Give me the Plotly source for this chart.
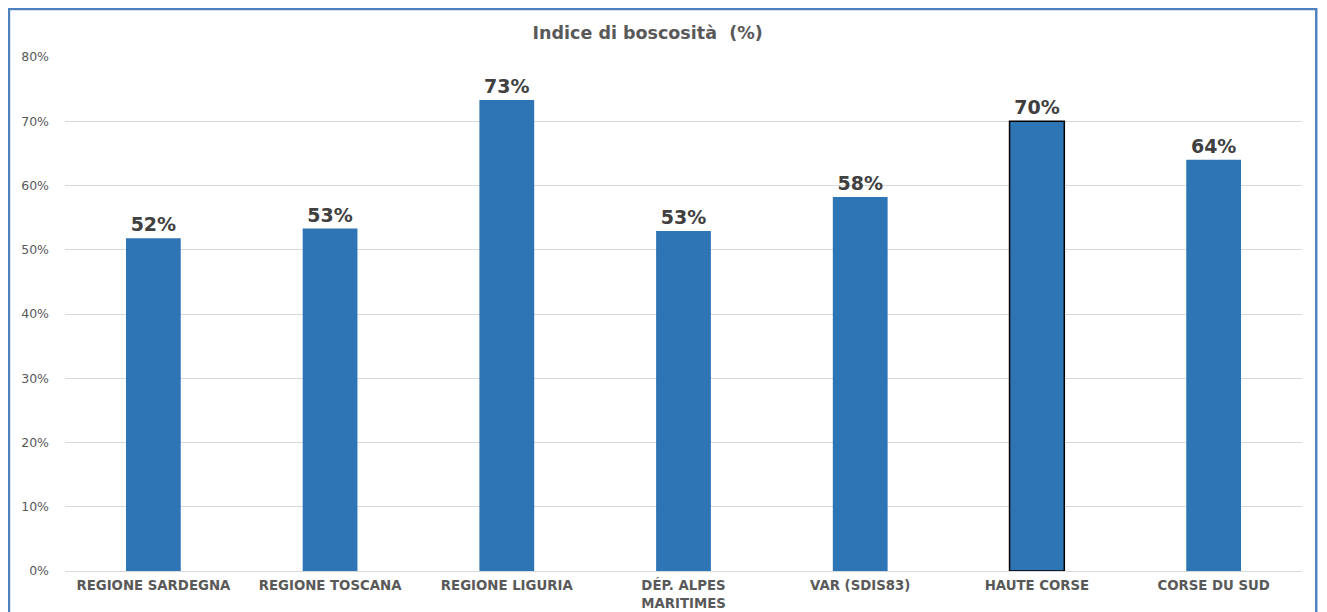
import plotly.graph_objects as go

categories = ["REGIONE SARDEGNA", "REGIONE TOSCANA", "REGIONE LIGURIA",
              "DÉP. ALPES<br>MARITIMES", "VAR (SDIS83)", "HAUTE CORSE", "CORSE DU SUD"]
values = [51.8, 53.3, 73.3, 52.9, 58.2, 70.0, 64.0]
labels = ["52%", "53%", "73%", "53%", "58%", "70%", "64%"]
y_ticks = [0, 10, 20, 30, 40, 50, 60, 70, 80]
y_tick_labels = ["0%", "10%", "20%", "30%", "40%", "50%", "60%", "70%", "80%"]
outline_colors = ["#2E75B6", "#2E75B6", "#2E75B6", "#2E75B6", "#2E75B6", "#000000", "#2E75B6"]
outline_widths = [0, 0, 0, 0, 0, 1.5, 0]

fig = go.Figure()
fig.add_trace(go.Bar(
    x=categories, y=values,
    width=0.31,
    marker=dict(color="#2E75B6", line=dict(color=outline_colors, width=outline_widths)),
    text=labels, textposition="outside", cliponaxis=False,
    textfont=dict(family="DejaVu Sans", size=19, color="#404040", weight="bold"),
    showlegend=False,
))

fig.update_layout(
    width=1319, height=604,
    margin=dict(l=57, r=25, t=49, b=41, autoexpand=False),
    paper_bgcolor="white", plot_bgcolor="white",
    title=dict(text="<b>Indice di boscosità  (%)</b>", x=0.471, xref="paper", xanchor="center",
               y=0.9586, yref="container", yanchor="middle",
               font=dict(family="DejaVu Sans", size=17.5, color="#595959")),
    xaxis=dict(showgrid=False, showline=False, ticks="", automargin=False,
               tickfont=dict(family="DejaVu Sans", size=13.3, color="#595959", weight="bold"),
               ticklabelstandoff=5),
    yaxis=dict(range=[0, 80], tickvals=y_ticks, ticktext=y_tick_labels, automargin=False,
               showgrid=True, gridcolor="#D9D9D9", gridwidth=1, zeroline=True,
               zerolinecolor="#D9D9D9", zerolinewidth=1, showline=False, ticks="",
               tickfont=dict(family="DejaVu Sans", size=12.5, color="#595959"),
               ticklabelstandoff=15),
    bargap=0.69,
    shapes=[dict(type="rect", xref="paper", yref="paper",
                 x0=-0.0453, x1=1.0115, y0=-0.09, y1=1.0934,
                 line=dict(color="#4F81BD", width=2.5), fillcolor="rgba(0,0,0,0)", layer="above")],
)

fig.write_html("out.html")
